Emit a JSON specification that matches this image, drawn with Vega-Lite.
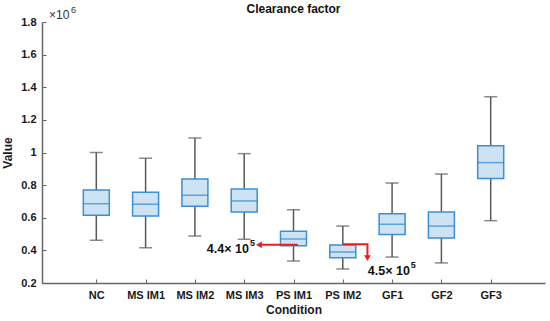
{
  "$schema": "https://vega.github.io/schema/vega-lite/v6.json",
  "width": 503,
  "height": 261,
  "autosize": {"type": "none"},
  "padding": {"left": 42, "top": 22, "right": 5, "bottom": 38},
  "background": "white",
  "title": {"text": "Clearance factor", "fontSize": 12, "fontWeight": "bold", "font": "Liberation Sans", "color": "#111", "offset": 6, "dy": 16},
  "config": {
    "view": {"stroke": null},
    "axis": {"labelFont": "Liberation Sans", "labelFontWeight": "bold", "labelFontSize": 11, "labelColor": "#1a1a1a", "titleFont": "Liberation Sans", "titleFontWeight": "bold", "titleFontSize": 12, "titleColor": "#1a1a1a", "domainColor": "#666", "tickColor": "#666", "domainWidth": 1.5, "grid": false, "labelOverlap": false}
  },
  "datasets": {
    "boxes": [
      {"c": "NC", "i": 1, "lo": 0.462, "q1": 0.615, "med": 0.686, "q3": 0.770, "hi": 1.0},
      {"c": "MS IM1", "i": 2, "lo": 0.416, "q1": 0.611, "med": 0.683, "q3": 0.756, "hi": 0.965},
      {"c": "MS IM2", "i": 3, "lo": 0.488, "q1": 0.670, "med": 0.738, "q3": 0.838, "hi": 1.089},
      {"c": "MS IM3", "i": 4, "lo": 0.468, "q1": 0.635, "med": 0.703, "q3": 0.776, "hi": 0.993},
      {"c": "PS IM1", "i": 5, "lo": 0.335, "q1": 0.429, "med": 0.470, "q3": 0.517, "hi": 0.649},
      {"c": "PS IM2", "i": 6, "lo": 0.286, "q1": 0.355, "med": 0.390, "q3": 0.433, "hi": 0.549},
      {"c": "GF1", "i": 7, "lo": 0.359, "q1": 0.498, "med": 0.560, "q3": 0.625, "hi": 0.813},
      {"c": "GF2", "i": 8, "lo": 0.323, "q1": 0.476, "med": 0.549, "q3": 0.635, "hi": 0.868},
      {"c": "GF3", "i": 9, "lo": 0.582, "q1": 0.840, "med": 0.938, "q3": 1.042, "hi": 1.342}
    ],
    "arrows": [
      {"a": "A", "k": 1, "x": 5.09, "y": 0.434},
      {"a": "A", "k": 2, "x": 4.32, "y": 0.434},
      {"a": "B", "k": 1, "x": 6.0, "y": 0.437},
      {"a": "B", "k": 2, "x": 6.5, "y": 0.437},
      {"a": "B", "k": 3, "x": 6.5, "y": 0.36}
    ],
    "heads": [
      {"shape": "triangle-left", "x": 4.3, "y": 0.434},
      {"shape": "triangle-down", "x": 6.5, "y": 0.352}
    ],
    "notes": [
      {"x": 4.095, "y": 0.41, "t": "4.4× 10", "e": "5"},
      {"x": 7.36, "y": 0.272, "t": "4.5× 10", "e": "5"}
    ]
  },
  "encoding": {
    "x": {"type": "quantitative", "scale": {"domain": [0, 10], "nice": false, "zero": false},
          "axis": {"values": [1,2,3,4,5,6,7,8,9], "title": "Condition", "titlePadding": 4, "tickSize": -4, "labelPadding": 10, "labelOverlap": false,
                   "labelExpr": "['','NC','MS IM1','MS IM2','MS IM3','PS IM1','PS IM2','GF1','GF2','GF3'][datum.value]"}},
    "y": {"type": "quantitative", "scale": {"domain": [0.2, 1.8], "nice": false, "zero": false},
          "axis": {"values": [0.2,0.4,0.6,0.8,1,1.2,1.4,1.6,1.8], "format": ".1~f", "title": "Value", "tickSize": -4, "labelPadding": 10, "titlePadding": 6, "labelOverlap": false}}
  },
  "layer": [
    {
      "data": {"name": "boxes"},
      "mark": {"type": "rule", "color": "#595959", "strokeWidth": 1.5},
      "encoding": {"x": {"field": "i"}, "y": {"field": "lo"}, "y2": {"field": "hi"}}
    },
    {
      "data": {"name": "boxes"},
      "mark": {"type": "tick", "orient": "horizontal", "size": 13, "thickness": 1.5, "color": "#595959"},
      "encoding": {"x": {"field": "i"}, "y": {"field": "hi"}}
    },
    {
      "data": {"name": "boxes"},
      "mark": {"type": "tick", "orient": "horizontal", "size": 13, "thickness": 1.5, "color": "#595959"},
      "encoding": {"x": {"field": "i"}, "y": {"field": "lo"}}
    },
    {
      "data": {"name": "boxes"},
      "mark": {"type": "bar", "orient": "vertical", "width": 26, "fill": "#cde3f4", "stroke": "#3a8fd8", "strokeWidth": 1.5},
      "encoding": {"x": {"field": "i"}, "y": {"field": "q1"}, "y2": {"field": "q3"}}
    },
    {
      "data": {"name": "boxes"},
      "mark": {"type": "tick", "orient": "horizontal", "size": 26, "thickness": 1.5, "color": "#2f86d2"},
      "encoding": {"x": {"field": "i"}, "y": {"field": "med"}}
    },
    {
      "data": {"name": "arrows"},
      "mark": {"type": "line", "color": "#ee1c1c", "strokeWidth": 2},
      "encoding": {"x": {"field": "x"}, "y": {"field": "y"}, "detail": {"field": "a"}, "order": {"field": "k"}}
    },
    {
      "data": {"name": "heads"},
      "mark": {"type": "point", "filled": true, "color": "#ee1c1c", "size": 45, "opacity": 1},
      "encoding": {"x": {"field": "x"}, "y": {"field": "y"}, "shape": {"field": "shape", "type": "nominal", "scale": null}}
    },
    {
      "data": {"name": "notes"},
      "mark": {"type": "text", "align": "right", "baseline": "middle", "font": "Liberation Sans", "fontWeight": "bold", "fontSize": 12.5, "color": "#111"},
      "encoding": {"x": {"field": "x"}, "y": {"field": "y"}, "text": {"field": "t"}}
    },
    {
      "data": {"name": "notes"},
      "mark": {"type": "text", "align": "left", "baseline": "middle", "font": "Liberation Sans", "fontWeight": "bold", "fontSize": 9, "color": "#111", "dx": 1, "dy": -6},
      "encoding": {"x": {"field": "x"}, "y": {"field": "y"}, "text": {"field": "e"}}
    },
    {
      "data": {"values": [{"x": 0, "y": 1.8, "t": "×10", "e": "6"}]},
      "mark": {"type": "text", "align": "left", "baseline": "middle", "font": "Liberation Sans", "fontSize": 12, "color": "#333", "dx": 2, "dy": -7},
      "encoding": {"x": {"field": "x"}, "y": {"field": "y"}, "text": {"field": "t"}}
    },
    {
      "data": {"values": [{"x": 0, "y": 1.8, "t": "×10", "e": "6"}]},
      "mark": {"type": "text", "align": "left", "baseline": "middle", "font": "Liberation Sans", "fontSize": 9, "color": "#333", "dx": 24, "dy": -12},
      "encoding": {"x": {"field": "x"}, "y": {"field": "y"}, "text": {"field": "e"}}
    }
  ]
}
